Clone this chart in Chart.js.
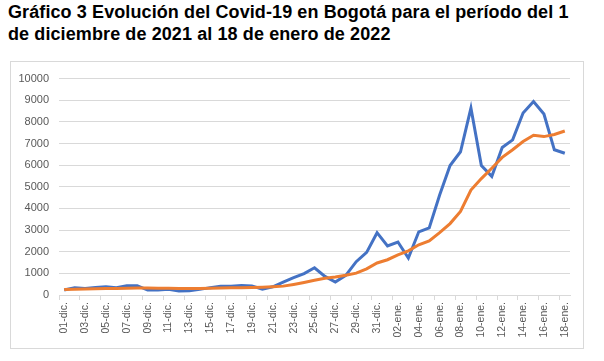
<!DOCTYPE html>
<html>
<head>
<meta charset="utf-8">
<script src="https://cdn.jsdelivr.net/npm/chart.js@4"></script>
<style>
  body { margin: 0; background: #fff; width: 604px; height: 361px; position: relative; overflow: hidden; }
  #title {
    position: absolute; left: 8px; top: 2px; width: 600px;
    font-family: "Liberation Sans", Arial, sans-serif; font-weight: bold;
    font-size: 18px; line-height: 21.5px; letter-spacing: 0.1px; color: #000; white-space: nowrap;
  }
  #box {
    position: absolute; left: 10px; top: 61px; width: 574px; height: 288px;
    border: 1px solid #d9d9d9; box-sizing: border-box;
  }
  #chart { display: block; }
</style>
</head>
<body>
<div id="title">Gráfico 3 Evolución del Covid-19 en Bogotá para el período del 1<br>de diciembre de 2021 al 18 de enero de 2022</div>
<div id="box"><canvas id="chart" width="572" height="286"></canvas></div>
<script>
const fechas = [
  '01-dic.', '02-dic.', '03-dic.', '04-dic.', '05-dic.', '06-dic.', '07-dic.', '08-dic.', '09-dic.', '10-dic.',
  '11-dic.', '12-dic.', '13-dic.', '14-dic.', '15-dic.', '16-dic.', '17-dic.', '18-dic.', '19-dic.', '20-dic.',
  '21-dic.', '22-dic.', '23-dic.', '24-dic.', '25-dic.', '26-dic.', '27-dic.', '28-dic.', '29-dic.', '30-dic.',
  '31-dic.', '01-ene.', '02-ene.', '03-ene.', '04-ene.', '05-ene.', '06-ene.', '07-ene.', '08-ene.', '09-ene.',
  '10-ene.', '11-ene.', '12-ene.', '13-ene.', '14-ene.', '15-ene.', '16-ene.', '17-ene.', '18-ene.'
]

// casos diarios (azul)
const casos = [
  230, 340, 300, 350, 380, 340, 430, 430, 230, 230,
  260, 180, 200, 260, 340, 400, 410, 440, 420, 270,
  380, 600, 800, 990, 1260, 860, 600, 910, 1540, 1970,
  2880, 2270, 2450, 1710, 2920, 3100, 4620, 5980, 6620, 8640,
  5980, 5480, 6820, 7170, 8410, 8940, 8360, 6710, 6550
]

// promedio (naranja)
const promedio = [
  250, 270, 280, 290, 300, 300, 310, 320, 320, 310,
  310, 300, 300, 300, 310, 320, 330, 340, 350, 360,
  380, 410, 490, 580, 680, 770, 830, 910, 1010, 1210,
  1480, 1630, 1850, 2040, 2320, 2500, 2880, 3300, 3860, 4850,
  5380, 5860, 6360, 6710, 7090, 7380, 7320, 7420, 7580
]

const yTicks = [0, 1000, 2000, 3000, 4000, 5000, 6000, 7000, 8000, 9000, 10000]

const GRID = '#d9d9d9'
const TEXT = '#595959'

new Chart(document.getElementById('chart'), {
  type: 'line',
  data: {
    labels: fechas,
    datasets: [
      {
        data: casos,
        borderColor: '#4472c4',
        borderWidth: 3,
        pointRadius: 0,
        tension: 0,
        order: 1
      },
      {
        data: promedio,
        borderColor: '#ed7d31',
        borderWidth: 3,
        pointRadius: 0,
        tension: 0,
        order: 0
      }
    ]
  },
  options: {
    responsive: false,
    animation: false,
    devicePixelRatio: 1,
    layout: { padding: { left: 0, right: 13, top: 13, bottom: 0 } },
    plugins: { legend: { display: false }, tooltip: { enabled: false } },
    scales: {
      x: {
        offset: true,
        grid: {
          offset: true,
          drawOnChartArea: false,
          tickLength: 5,
          tickColor: (ctx) => ctx.index % 2 === 0 ? GRID : 'rgba(0,0,0,0)'
        },
        border: { color: GRID },
        ticks: {
          autoSkip: false,
          minRotation: 90,
          maxRotation: 90,
          padding: 2,
          color: TEXT,
          font: { family: 'Liberation Sans', size: 10.5 },
          callback: (v, i) => i % 2 === 0 ? fechas[i] : ''
        },
        afterFit: (scale) => { scale.height = 53 }
      },
      y: {
        min: 0,
        max: 10000,
        afterBuildTicks: (scale) => { scale.ticks = yTicks.map(v => ({ value: v })) },
        grid: { color: GRID, drawTicks: false },
        border: { display: false },
        ticks: {
          padding: 10,
          color: TEXT,
          font: { family: 'Liberation Sans', size: 11 },
          callback: (v) => String(v)
        },
        afterFit: (scale) => { scale.width = 48 }
      }
    }
  }
})
</script>
</body>
</html>
